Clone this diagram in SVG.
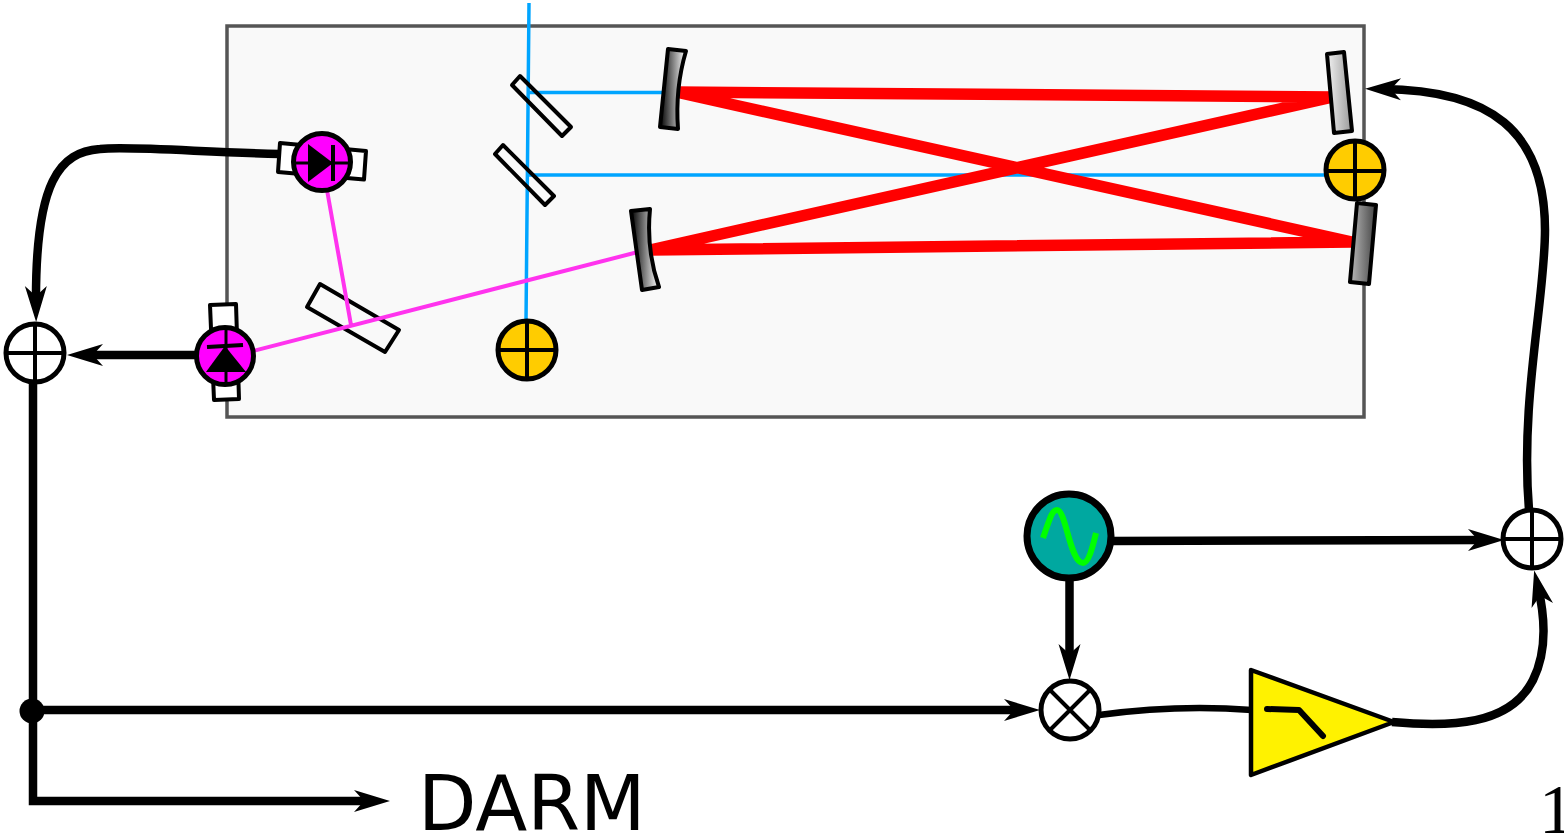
<svg xmlns="http://www.w3.org/2000/svg" width="1564" height="834" viewBox="0 0 1564 834">
<style>
.c{fill:none;stroke:#000;stroke-width:8.500}
.red{fill:none;stroke:#f00;stroke-width:11.500}
.blue{fill:none;stroke:#00a5ff;stroke-width:3.500}
.mag{fill:none;stroke:#ff33ee;stroke-width:4}
.o{fill:#fff;stroke:#000;stroke-width:4;stroke-linejoin:round}
.m{stroke:#000;stroke-width:4;stroke-linejoin:round}
.pd{fill:#f0f;stroke:#000;stroke-width:5}
.sum{fill:#fff;stroke:#000;stroke-width:5}
.eo{fill:#fc0;stroke:#000;stroke-width:5}
.x{fill:none;stroke:#000;stroke-width:4}
</style>
<defs>
<marker id="a" markerUnits="userSpaceOnUse" markerWidth="60" markerHeight="40" viewBox="-30 -20 60 40" refX="0" refY="0" orient="auto" overflow="visible"><path d="M17,0 L-19,-11 L-9,0 L-19,11 Z" fill="#000"/></marker>
<linearGradient id="gd"><stop offset="0" stop-color="#000"/><stop offset="1" stop-color="#fff"/></linearGradient>
<linearGradient id="gl"><stop offset="0" stop-color="#f2f2f2"/><stop offset="1" stop-color="#999"/></linearGradient>
<linearGradient id="gm"><stop offset="0" stop-color="#bbb"/><stop offset="1" stop-color="#444"/></linearGradient>
</defs>
<g id="vacuum-box"><rect x="227" y="26" width="1137" height="391" fill="#f9f9f9" stroke="#555" stroke-width="3.500"/></g>
<g id="beams">
<path class="blue" d="M529,3 L526,322 M529,92.500 H662 M528,175 H1327"/>
<path class="red" d="M676,92 L1333,97 L650,250 L1352,242 L676,92"/>
</g>
<g id="bs1"><polygon class="o" style="fill:none" points="520,76 571,127 562,136 512,85"/></g>
<g id="bs2"><polygon class="o" style="fill:none" points="503,145 554,196 545,205 495,154"/></g>
<g id="omc-bs"><polygon class="o" style="fill:none" points="320,284 399,330 385,352 307,307"/></g>
<g id="mag-beams"><path class="mag" d="M327,190 L351,325 M253,351 L638,252"/></g>
<g id="mirror-itm-y"><path class="m" fill="url(#gd)" d="M668,49 L686,51 Q675,88 678,129 L660,127 Z"/></g>
<g id="mirror-itm-x"><path class="m" fill="url(#gd)" d="M631,211 L650,209 Q646,250 659,287 L642,290 Z"/></g>
<g id="mirror-etm-y"><polygon class="m" fill="url(#gl)" points="1327,54 1344,52 1352,131 1334,133"/></g>
<g id="mirror-etm-x"><polygon class="m" fill="url(#gm)" points="1357,203 1376,205 1369,284 1350,282"/></g>
<g id="eom-right"><circle class="eo" cx="1355" cy="170" r="29"/><path class="x" d="M1355,141 V199 M1326,171 H1384"/></g>
<g id="eom-bottom"><circle class="eo" cx="527" cy="350" r="29"/><path class="x" d="M527,321 V379 M498,350 H556"/></g>
<g id="pd-1">
<polygon class="o" points="280,143 366,151 364,179.500 278,172"/>
<circle class="pd" cx="322" cy="162" r="28.500"/>
<path class="x" style="stroke-width:3" d="M295,163 H349"/>
<path d="M308,144 L333,163 L308,182 Z" fill="#000"/>
<path d="M333,145 V181" fill="none" stroke="#000" stroke-width="4"/>
</g>
<g id="pd-2">
<polygon class="o" points="210,305 236,304 239,399 214,400"/>
<circle class="pd" cx="225" cy="356" r="28.500"/>
<path class="x" style="stroke-width:3" d="M226,328 V384"/>
<path d="M225,346 L246,372 L206,372 Z" fill="#000"/>
<path d="M207,347 L243,345" fill="none" stroke="#000" stroke-width="4"/>
</g>
<g id="connectors">
<path class="c" marker-end="url(#a)" d="M280,154 C200,152 130,146 100,149 C60,152 35,180 36,305"/>
<path class="c" marker-end="url(#a)" d="M197,355 H84"/>
<path class="c" marker-end="url(#a)" d="M33,381 V801 H373"/>
<path class="c" marker-end="url(#a)" d="M33,710 H1023"/>
<path class="c" marker-end="url(#a)" d="M1069.500,580 V663"/>
<path class="c" marker-end="url(#a)" d="M1112,541 L1487,540"/>
<path class="c" style="stroke-width:6.500" d="M1099,715 C1150,708 1200,706 1252,710"/>
<path class="c" marker-end="url(#a)" d="M1392,722 C1450,727 1510,726 1533,680 C1543,660 1548,630 1538,587"/>
<path class="c" marker-end="url(#a)" d="M1529,510 C1520,400 1545,300 1545,230 C1545,130 1490,90 1382,89"/>
</g>
<g id="junction"><circle cx="32" cy="711" r="12.500" fill="#000"/></g>
<g id="sum-left"><circle class="sum" cx="35" cy="353" r="29"/><path class="x" d="M35,324 V382 M6,353 H64"/></g>
<g id="sum-right"><circle class="sum" cx="1532" cy="539" r="29"/><path class="x" d="M1532,510 V568 M1503,539 H1561"/></g>
<g id="mixer"><circle class="sum" cx="1070" cy="710" r="29"/><path class="x" d="M1050,690 L1090,730 M1090,690 L1050,730"/></g>
<g id="oscillator"><circle cx="1069" cy="536" r="42" fill="#00a8a0" stroke="#000" stroke-width="7"/><path d="M1043,538 C1050,518 1052,510 1057,510 C1066,510 1070,563 1083,563 C1088,563 1092,550 1096,533" fill="none" stroke="#0f0" stroke-width="6"/></g>
<g id="amplifier"><polygon points="1251,670 1394,722 1251,775" fill="#fff200" stroke="#000" stroke-width="4.500" stroke-linejoin="round"/><path d="M1267,709 L1299,710 L1323,736" fill="none" stroke="#000" stroke-width="6" stroke-linecap="round" stroke-linejoin="round"/></g>
<g id="labels">
<text x="418" y="830" font-family="'DejaVu Sans',sans-serif" font-size="76">DARM</text>
<text x="1539" y="833" font-family="'Liberation Serif',serif" font-size="70">1</text>
</g>
</svg>
